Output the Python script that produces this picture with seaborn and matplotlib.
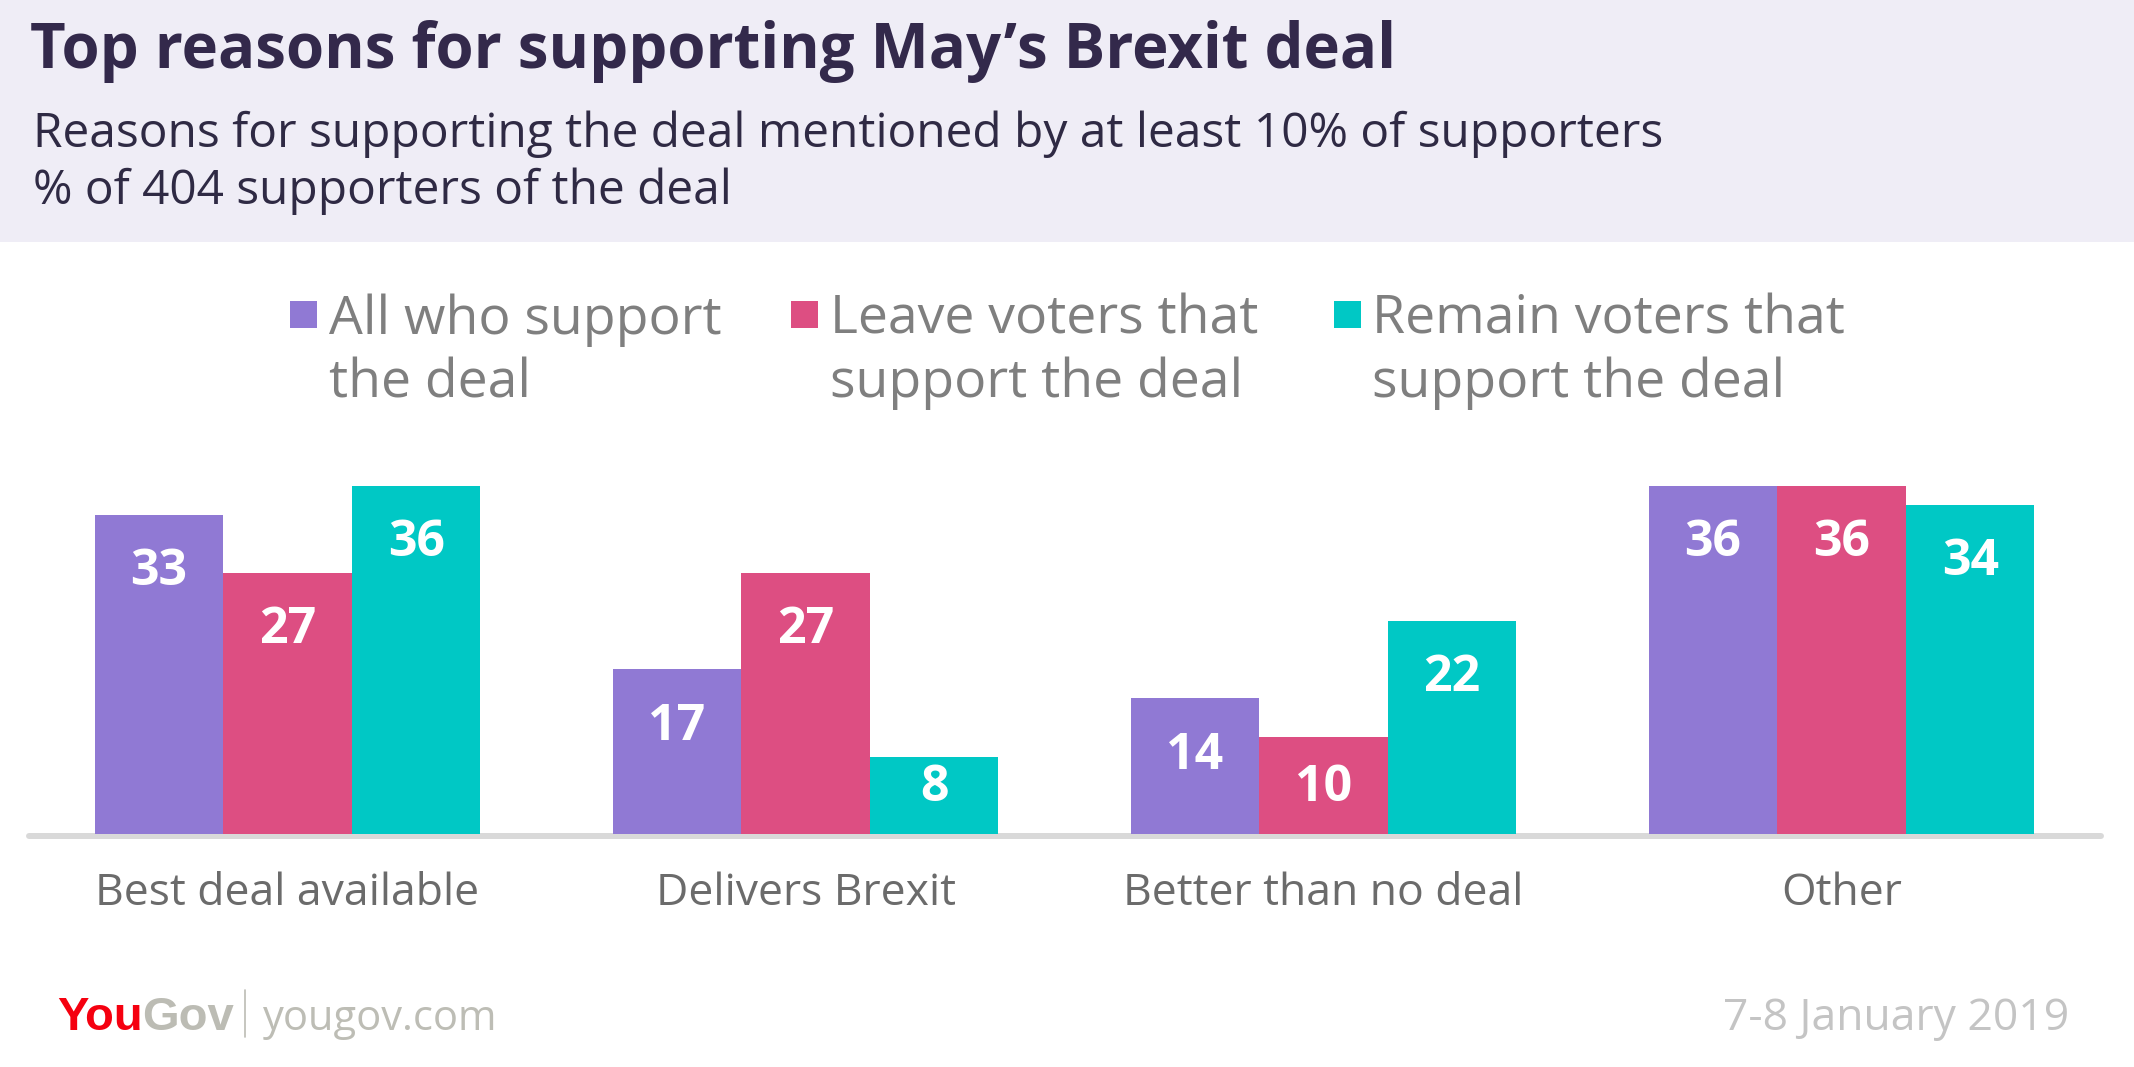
import matplotlib
matplotlib.use("Agg")
import matplotlib.pyplot as plt
from matplotlib.patches import Rectangle
from matplotlib.lines import Line2D
import seaborn as sns
import pandas as pd

# data
reasons = ["Best deal available", "Delivers Brexit", "Better than no deal", "Other"]
groups = ["All who support\nthe deal", "Leave voters that\nsupport the deal", "Remain voters that\nsupport the deal"]
all_support = [33, 17, 14, 36]
leave_support = [27, 27, 10, 36]
remain_support = [36, 8, 22, 34]
colors = ["#9079D4", "#DD4E82", "#00C8C5"]

df = pd.DataFrame({
    "reason": reasons * 3,
    "group": [groups[0]] * 4 + [groups[1]] * 4 + [groups[2]] * 4,
    "value": all_support + leave_support + remain_support,
})

sns.set_style("white")
plt.rcParams["font.family"] = ["Open Sans", "DejaVu Sans"]

W, H = 2134, 1067
fig = plt.figure(figsize=(W / 100, H / 100), dpi=100)

# header band
fig.patches.append(Rectangle((0, 1 - 242 / H), 1, 242 / H, transform=fig.transFigure,
                             facecolor="#EFEDF6", edgecolor="none", zorder=0))

ax = fig.add_axes([28.5 / W, (H - 834) / H, 2072 / W, 387.2 / H])
sns.barplot(data=df, x="reason", y="value", hue="group", hue_order=groups, order=reasons,
            palette=colors, saturation=1, width=0.745, gap=0, linewidth=0,
            legend=False, ax=ax)
ax.set_xlim(-0.5, 3.5)
ax.set_ylim(0, 40)
ax.axhline(-0.22, color="#D9D9D9", lw=4.3, zorder=0, clip_on=False)
sns.despine(ax=ax, left=True, bottom=True)
ax.set_yticks([])
ax.set_xlabel("")
ax.set_ylabel("")
ax.tick_params(axis="x", length=0, pad=27, labelsize=32, labelcolor="#6B6B6B")

# value labels inside the top of each bar, kept off the baseline for short bars
for cont in ax.containers:
    for bar in cont:
        v = bar.get_height()
        ax.text(bar.get_x() + bar.get_width() / 2, max(v - 5.9, 4.8), f"{v:.0f}",
                ha="center", va="center", color="white",
                fontsize=36, fontweight="bold")

# titles
fig.text(30 / W, 1 - 68 / H, "Top reasons for supporting May\u2019s Brexit deal",
         fontsize=44.5, fontweight="bold", color="#33294B", va="baseline")
fig.text(33 / W, 1 - 147 / H, "Reasons for supporting the deal mentioned by at least 10% of supporters",
         fontsize=34.5, color="#2F2A44", va="baseline")
fig.text(33 / W, 1 - 204 / H, "% of 404 supporters of the deal",
         fontsize=34.5, color="#2F2A44", va="baseline")

# legend
sq_x = [290, 791, 1334]
tx_x = [329, 830, 1372]
for g, c, sx, tx in zip(groups, colors, sq_x, tx_x):
    fig.patches.append(Rectangle((sx / W, 1 - 328 / H), 27 / W, 27 / H,
                                 transform=fig.transFigure, facecolor=c, edgecolor="none"))
    for i, line in enumerate(g.split("\n")):
        fig.text(tx / W, 1 - (334 + 63 * i) / H, line, fontsize=38.5, color="#7F7F7F",
                 va="baseline")

# footer
you = fig.text(57 / W, 1 - 1030 / H, "You", fontsize=34, fontweight="bold", color="#F5000F",
               family=["Liberation Sans", "DejaVu Sans"], va="baseline")
fig.canvas.draw()
bb = you.get_window_extent()
fig.text(bb.x1 / W, 1 - 1030 / H, "Gov", fontsize=34, fontweight="bold", color="#BCBCB4",
         family=["Liberation Sans", "DejaVu Sans"], va="baseline")
fig.add_artist(Line2D([245 / W, 245 / W], [1 - 1037 / H, 1 - 990 / H], transform=fig.transFigure,
                      color="#BCBCB4", lw=1.2))
fig.text(263 / W, 1 - 1030 / H, "yougov.com", fontsize=30, color="#BDBDB5",
         va="baseline")
fig.text(2069 / W, 1 - 1030 / H, "7-8 January 2019", fontsize=32,
         color="#C4C4C4", ha="right", va="baseline")

fig.savefig("out.png", dpi=100, facecolor="white")
